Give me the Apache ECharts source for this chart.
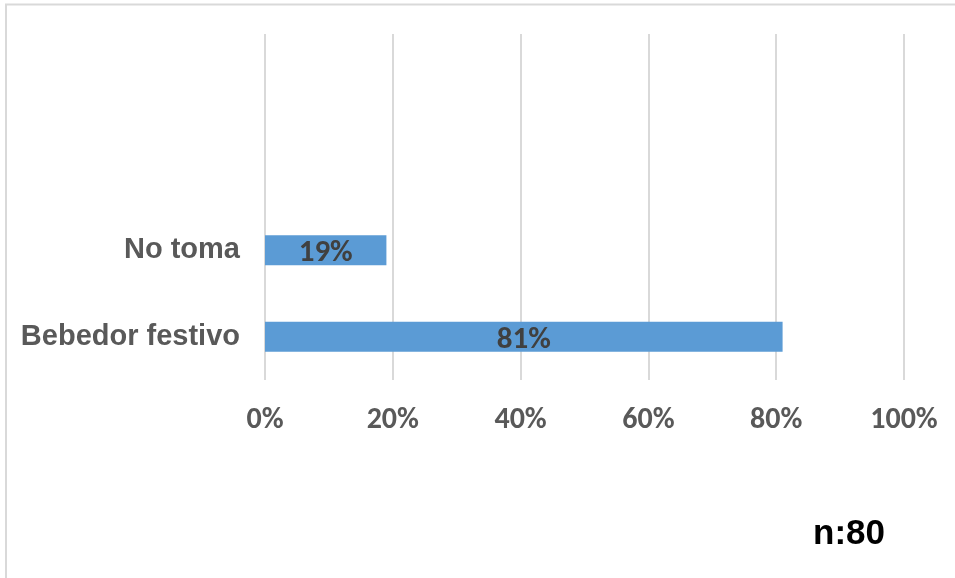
<!DOCTYPE html>
<html>
<head>
<meta charset="utf-8">
<script src="https://cdn.jsdelivr.net/npm/echarts@6/dist/echarts.min.js"></script>
<style>
  html, body { margin: 0; padding: 0; background: #ffffff; }
  #chart { width: 955px; height: 578px; }
</style>
</head>
<body>
<div id="chart"></div>
<script>
// Category rows, bottom to top (two empty rows keep the upper space free)
const categories = ['Bebedor festivo', 'No toma', '', ''];
// Share of respondents per category, in percent
const shares = [81, 19, null, null];
// Percentage axis
const axisMin = 0;
const axisMax = 100;
const axisStep = 20;
const sampleNote = 'n:80';

const chart = echarts.init(document.getElementById('chart'), null, { renderer: 'canvas' });

chart.setOption({
  animation: false,
  backgroundColor: '#ffffff',
  grid: { left: 265, right: 51, top: 34, bottom: 198, containLabel: false },
  xAxis: {
    type: 'value',
    min: axisMin,
    max: axisMax,
    interval: axisStep,
    axisLine: { show: false },
    axisTick: { show: false },
    splitLine: { show: true, lineStyle: { color: '#d9d9d9', width: 2 } },
    axisLabel: {
      formatter: '{value}%',
      color: '#595959',
      fontFamily: 'Carlito, Lato, sans-serif',
      fontWeight: 'bold',
      fontSize: 30,
      margin: 25
    }
  },
  yAxis: {
    type: 'category',
    data: categories,
    axisLine: { show: false },
    axisTick: { show: false },
    splitLine: { show: false },
    axisLabel: {
      color: '#595959',
      fontFamily: 'Liberation Sans, Arial, sans-serif',
      fontWeight: 'bold',
      fontSize: 29,
      margin: 25,
      padding: [5, 0, 0, 0]
    }
  },
  series: [{
    type: 'bar',
    data: shares,
    barWidth: 30,
    itemStyle: { color: '#5b9bd5' },
    label: {
      show: true,
      position: 'inside',
      formatter: p => p.value + '%',
      color: '#404040',
      fontFamily: 'Carlito, Lato, sans-serif',
      fontWeight: 'bold',
      fontSize: 31,
      offset: [0, 3]
    }
  }],
  graphic: [
    {
      type: 'rect',
      silent: true,
      shape: { x: 6, y: 4.5, width: 1200, height: 1000 },
      style: { fill: 'none', stroke: '#d9d9d9', lineWidth: 2 }
    },
    {
      type: 'text',
      x: 849,
      y: 534,
      style: {
        text: sampleNote,
        fill: '#000000',
        align: 'center',
        verticalAlign: 'middle',
        font: 'bold 35px "Liberation Sans", Arial, sans-serif'
      }
    }
  ]
});
</script>
</body>
</html>
